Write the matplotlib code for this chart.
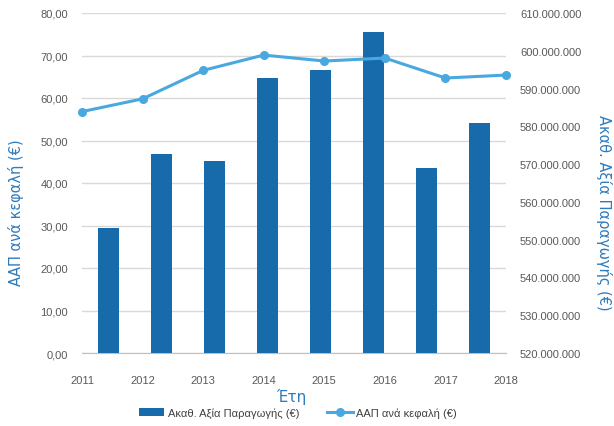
import matplotlib.pyplot as plt
from matplotlib.ticker import FuncFormatter

# data
years = ["2011", "2012", "2013", "2014", "2015", "2016", "2017", "2018"]
aap_per_capita = [56.8, 59.8, 66.5, 70.1, 68.7, 69.4, 64.7, 65.4]
gross_value = [553.2e6, 572.6e6, 570.9e6, 592.7e6, 594.9e6, 605.1e6, 568.9e6, 581.0e6]

bar_color = "#176baa"
line_color = "#4aa8e0"
title_color = "#2e7bbd"
tick_color = "#595959"

plt.rcParams["font.family"] = ["Liberation Sans", "DejaVu Sans"]

fig = plt.figure(figsize=(6.14, 4.27), dpi=100)
pos = [82 / 614, 1 - 354 / 427, (506 - 82) / 614, (354 - 14) / 427]

# bottom axes: left scale, gridlines, year labels
ax = fig.add_axes(pos)
xi = list(range(len(years)))
ax.set_xlim(0, len(years) - 1)
ax.set_ylim(0, 80)
ax.set_yticks(range(0, 81, 10))
ax.yaxis.set_major_formatter(FuncFormatter(lambda v, p: f"{v:.2f}".replace(".", ",")))
ax.set_xticks(xi)
ax.set_xticklabels(years)
ax.grid(axis="y", color="#d9d9d9", linewidth=1)
ax.set_axisbelow(True)
for s in ["top", "right", "left"]:
    ax.spines[s].set_visible(False)
ax.spines["bottom"].set_color("#bfbfbf")
ax.tick_params(axis="both", length=0, colors=tick_color, labelsize=8)
ax.tick_params(axis="y", pad=10)
ax.tick_params(axis="x", pad=16)

# bars on the right scale, category bands
ax_bar = fig.add_axes(pos)
ax_bar.patch.set_visible(False)
bars = ax_bar.bar(xi, gross_value, width=0.4, color=bar_color, label="Ακαθ. Αξία Παραγωγής (€)")
ax_bar.set_xlim(-0.5, len(years) - 0.5)
ax_bar.set_ylim(520e6, 610e6)
ax_bar.set_yticks([520e6 + i * 10e6 for i in range(10)])
ax_bar.yaxis.set_major_formatter(FuncFormatter(lambda v, p: f"{v:,.0f}".replace(",", ".")))
ax_bar.yaxis.tick_right()
ax_bar.xaxis.set_visible(False)
for s in ax_bar.spines.values():
    s.set_visible(False)
ax_bar.tick_params(axis="y", length=0, colors=tick_color, labelsize=8, pad=10)

# line on the left scale, on top
ax_line = fig.add_axes(pos)
ax_line.patch.set_visible(False)
line, = ax_line.plot(xi, aap_per_capita, color=line_color, linewidth=2.2, marker="o",
                     markersize=5.5, label="ΑΑΠ ανά κεφαλή (€)", clip_on=False)
ax_line.set_xlim(0, len(years) - 1)
ax_line.set_ylim(0, 80)
ax_line.axis("off")

# axis titles
fig.text(16 / 614, 1 - 213 / 427, "ΑΑΠ ανά κεφαλή (€)", rotation=90, ha="center", va="center",
         color=title_color, fontsize=10.5, family="DejaVu Sans")
fig.text(604 / 614, 1 - 213 / 427, "Ακαθ. Αξία Παραγωγής (€)", rotation=270, ha="center",
         va="center", color=title_color, fontsize=10.5, family="DejaVu Sans")
fig.text(291 / 614, 1 - 397 / 427, "Έτη", ha="center", va="center",
         color=title_color, fontsize=11, family="DejaVu Sans")

fig.legend(handles=[bars, line], loc="center", bbox_to_anchor=(0.485, 1 - 414 / 427),
           ncol=2, frameon=False, fontsize=8, handlelength=2.3, columnspacing=2.5,
           handletextpad=0.3, labelcolor="#404040")

fig.savefig("out.png", dpi=100)
